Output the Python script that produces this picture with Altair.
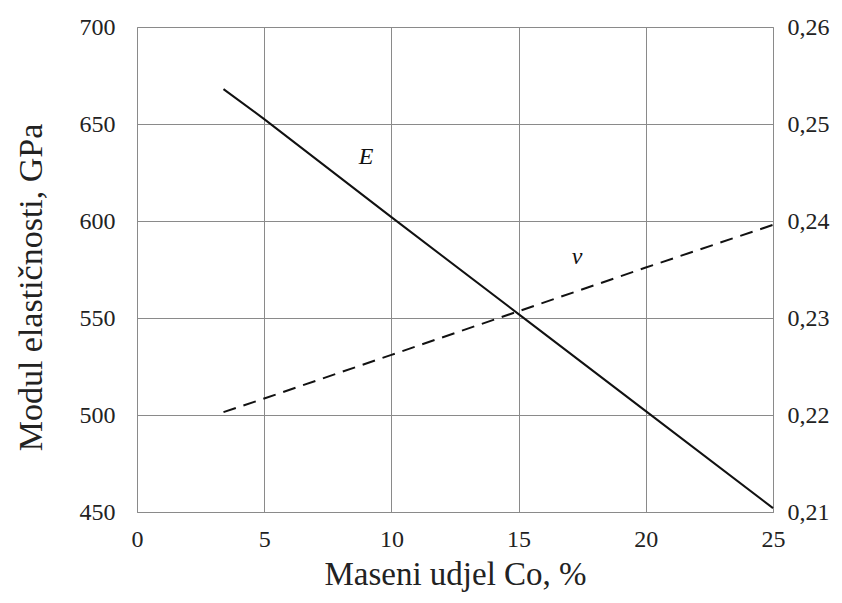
import altair as alt
import pandas as pd

co = [3.4, 5, 10, 15, 20, 25]
E = [668, 652.5, 602, 552, 502, 452]
nu = [0.2203, 0.2217, 0.2262, 0.2307, 0.2352, 0.2396]

df = pd.DataFrame({"co": co, "E": E, "nu": nu})
lab_E = pd.DataFrame({"co": [9.0], "E": [633], "t": ["E"]})
lab_nu = pd.DataFrame({"co": [17.3], "nu": [0.2363], "t": ["ν"]})

FONT = "Liberation Serif"
xs = alt.Scale(domain=[0, 25], nice=False)
x = alt.X("co:Q", scale=xs,
          axis=alt.Axis(title="Maseni udjel Co, %", values=[0, 5, 10, 15, 20, 25],
                        grid=True, gridColor="#8a8a8a", gridWidth=1, ticks=False,
                        labelFlush=False,
                        domainColor="#8a8a8a", labelPadding=15, titlePadding=7,
                        labelFontSize=24, titleFontSize=33, labelFont=FONT, titleFont=FONT,
                        labelColor="#222", titleColor="#222", titleFontWeight="normal"))

left = alt.Chart(df).mark_line(color="#111", strokeWidth=2).encode(
    x=x,
    y=alt.Y("E:Q", scale=alt.Scale(domain=[450, 700], nice=False),
            axis=alt.Axis(title="Modul elastičnosti, GPa", values=[450, 500, 550, 600, 650, 700],
                          grid=True, gridColor="#8a8a8a", ticks=False, domainColor="#8a8a8a",
                          labelFlush=False,
                          labelPadding=22, titlePadding=31, titleY=260, labelFontSize=24,
                          titleFontSize=34, labelFont=FONT, titleFont=FONT, labelColor="#222",
                          titleColor="#222", titleFontWeight="normal")),
)
left_txt = alt.Chart(lab_E).mark_text(font=FONT, fontSize=24, fontStyle="italic", color="#111").encode(
    x=alt.X("co:Q", scale=xs), y=alt.Y("E:Q", scale=alt.Scale(domain=[450, 700], nice=False)), text="t:N")

right = alt.Chart(df).mark_line(color="#111", strokeWidth=2, strokeDash=[13, 8]).encode(
    x=alt.X("co:Q", scale=xs),
    y=alt.Y("nu:Q", scale=alt.Scale(domain=[0.21, 0.26], nice=False),
            axis=alt.Axis(orient="right", title=None, values=[0.21, 0.22, 0.23, 0.24, 0.25, 0.26],
                          grid=False, ticks=False, domainColor="#8a8a8a", labelPadding=14,
                          labelFlush=False,
                          labelFontSize=24, labelFont=FONT, labelColor="#222",
                          labelExpr="replace(format(datum.value, '.2f'), '.', ',')")),
)
right_txt = alt.Chart(lab_nu).mark_text(font=FONT, fontSize=24, fontStyle="italic", color="#111").encode(
    x=alt.X("co:Q", scale=xs), y=alt.Y("nu:Q", scale=alt.Scale(domain=[0.21, 0.26], nice=False)), text="t:N")

chart = alt.layer(left + left_txt, right + right_txt).resolve_scale(y="independent").properties(
    width=636, height=485,
    autosize=alt.AutoSizeParams(type="none"),
    padding={"left": 129, "top": 19, "right": 61, "bottom": 83},
).configure_view(stroke=None).configure(background="white", font=FONT)

chart.save("out.html", embed_options={"renderer": "svg", "actions": False})
